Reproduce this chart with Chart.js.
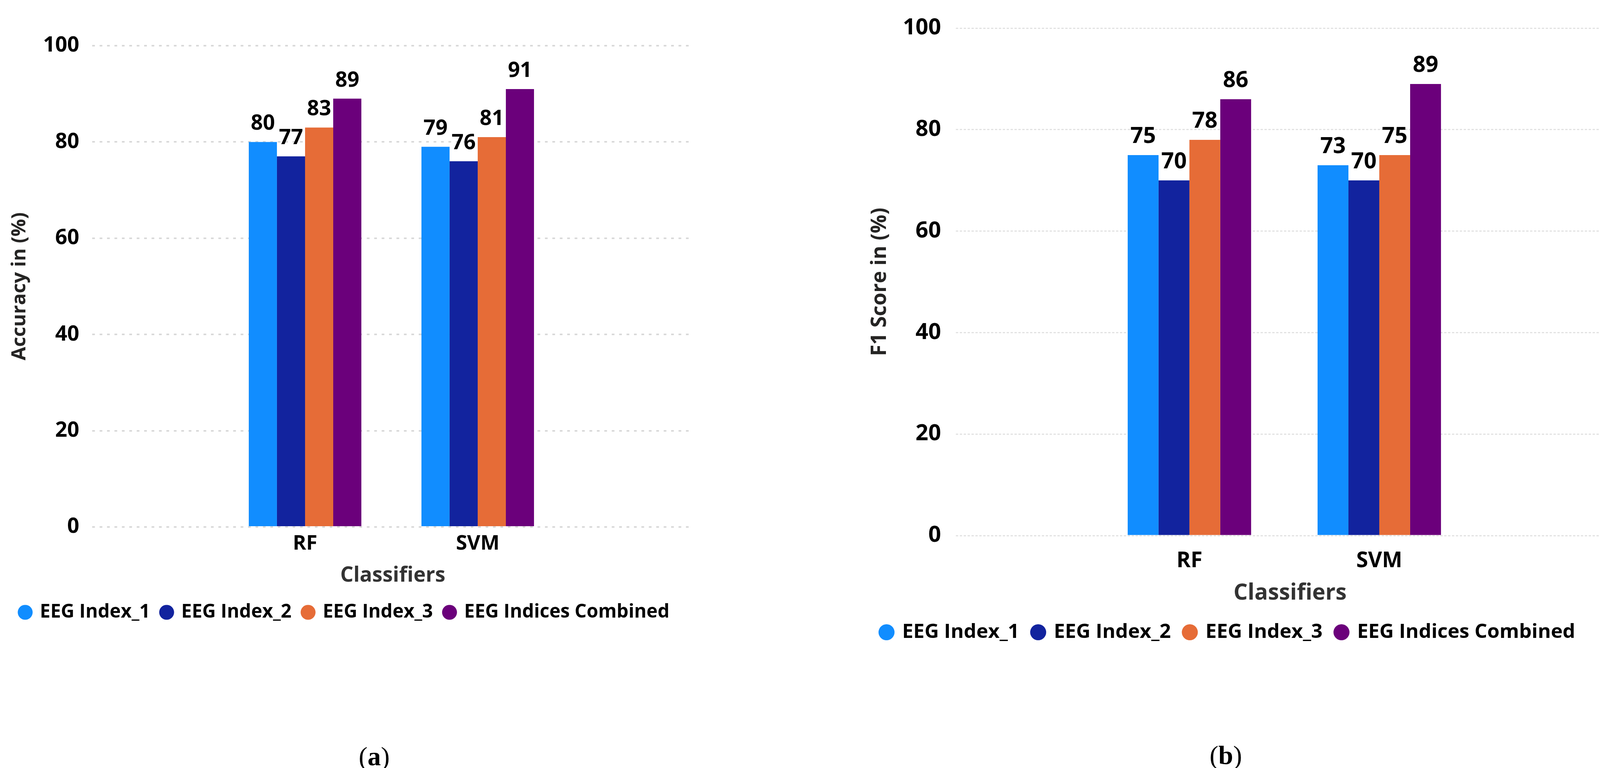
<!DOCTYPE html>
<html>
<head>
<meta charset="utf-8">
<script src="https://cdn.jsdelivr.net/npm/chart.js@4.4.1/dist/chart.umd.min.js"></script>
<style>
  html, body { margin: 0; padding: 0; background: #fff; }
  body { width: 4191px; height: 1966px; position: relative; overflow: hidden; }
  canvas { position: absolute; top: 0; }
  #chartA { left: 0; }
  #chartB { left: 2200px; }
  .caption { position: absolute; font-family: 'Liberation Serif', 'Times New Roman', serif; font-size: 68px; line-height: 1; color: #000; transform: translate(-50%, -50%); }
  .caption b { font-weight: bold; }
</style>
</head>
<body>
<canvas id="chartA" width="1800" height="1700"></canvas>
<canvas id="chartB" width="1991" height="1760"></canvas>
<div class="caption" style="left:958px; top:1936px;">(<b>a</b>)</div>
<div class="caption" style="left:3138px; top:1933px;">(<b>b</b>)</div>
<script>
// data
const classifiers = ['RF', 'SVM'];
const seriesNames = ['EEG Index_1', 'EEG Index_2', 'EEG Index_3', 'EEG Indices Combined'];
const seriesColors = ['#118DFF', '#12239E', '#E66C37', '#6B007B'];

const accIndex1 = [80, 79];
const accIndex2 = [77, 76];
const accIndex3 = [83, 81];
const accCombined = [89, 91];

const f1Index1 = [75, 73];
const f1Index2 = [70, 70];
const f1Index3 = [78, 75];
const f1Combined = [86, 89];

const yTicks = [0, 20, 40, 60, 80, 100];

Chart.defaults.font.family = "'Open Sans', 'Noto Sans', sans-serif";
Chart.defaults.font.weight = 'bold';
Chart.defaults.color = '#000';

// value labels on top of each bar
const barLabels = {
    id: 'barLabels',
    afterDatasetsDraw(chart, args, opts) {
        const ctx = chart.ctx;
        ctx.save();
        ctx.font = `bold ${opts.size}px 'Open Sans', 'Noto Sans', sans-serif`;
        ctx.fillStyle = '#000';
        ctx.textAlign = 'center';
        ctx.textBaseline = 'alphabetic';
        chart.data.datasets.forEach((ds, i) => {
            chart.getDatasetMeta(i).data.forEach((bar, j) => {
                ctx.fillText(Math.round(ds.data[j].y), bar.x, bar.y - opts.gap);
            });
        });
        ctx.restore();
    }
};

function makeChart(id, series, yTitle, s) {
    const datasets = series.map((vals, i) => ({
        label: seriesNames[i],
        data: vals.map((v, j) => ({ x: j, y: v })),
        backgroundColor: seriesColors[i],
        borderWidth: 0,
        categoryPercentage: s.catPct,
        barPercentage: 1.0
    }));

    return new Chart(document.getElementById(id), {
        type: 'bar',
        data: { datasets },
        plugins: [barLabels],
        options: {
            responsive: false,
            animation: false,
            devicePixelRatio: 1,
            layout: { padding: s.pad },
            scales: {
                x: {
                    type: 'linear',
                    min: s.xMin,
                    max: s.xMax,
                    offset: false,
                    grid: { display: false, offset: false },
                    border: { display: false },
                    afterBuildTicks: axis => { axis.ticks = classifiers.map((c, i) => ({ value: i })); },
                    afterFit: axis => { axis.height = s.xHeight; },
                    ticks: {
                        callback: v => classifiers[v],
                        font: { size: s.catSize, weight: 'bold' },
                        color: '#000',
                        padding: s.catPad,
                        maxRotation: 0
                    },
                    title: {
                        display: true,
                        text: 'Classifiers',
                        color: '#333',
                        font: { size: s.xTitleSize, weight: 'bold' },
                        padding: { top: 0, bottom: s.xTitlePad }
                    }
                },
                y: {
                    min: 0,
                    max: 100,
                    afterBuildTicks: axis => { axis.ticks = yTicks.map(v => ({ value: v })); },
                    afterFit: axis => { axis.width = s.yWidth; },
                    grid: {
                        color: s.gridColor,
                        lineWidth: s.gridWidth,
                        drawTicks: false,
                        tickLength: 0
                    },
                    border: { display: false, dash: s.gridDash },
                    ticks: {
                        font: { size: s.tickSize, weight: 'bold' },
                        color: '#000',
                        padding: s.tickPad
                    },
                    title: {
                        display: true,
                        text: yTitle,
                        color: '#252423',
                        font: { size: s.yTitleSize, weight: 'bold' },
                        padding: { top: s.yTitlePad, bottom: 0 }
                    }
                }
            },
            plugins: {
                tooltip: { enabled: false },
                barLabels: { size: s.labelSize, gap: 31 },
                legend: {
                    position: 'bottom',
                    align: 'start',
                    labels: {
                        usePointStyle: true,
                        pointStyle: 'circle',
                        boxWidth: s.box,
                        boxHeight: s.box,
                        padding: s.legendPad,
                        color: '#000',
                        font: { size: s.legendSize, weight: 'bold' }
                    }
                }
            }
        }
    });
}

makeChart('chartA', [accIndex1, accIndex2, accIndex3, accCombined], 'Accuracy in (%)', {
    pad: { left: 22, right: 25, top: 117, bottom: 98.5 },
    xMin: -1.233, xMax: 2.249, catPct: 0.652,
    xHeight: 165.5, yWidth: 214,
    catSize: 52, catPad: 4, xTitleSize: 53, xTitlePad: 9,
    tickSize: 54, tickPad: 33, yTitleSize: 50, yTitlePad: -1,
    labelSize: 54, legendSize: 48, legendPad: 29, box: 27,
    gridColor: '#d9d9d9', gridWidth: 4, gridDash: [7, 12]
});

makeChart('chartB', [f1Index1, f1Index2, f1Index3, f1Combined], 'F1 Score in (%)', {
    pad: { left: 21, right: 33, top: 67, bottom: 106 },
    xMin: -1.230, xMax: 2.290, catPct: 0.65,
    xHeight: 188, yWidth: 226,
    catSize: 55, catPad: 24, xTitleSize: 57, xTitlePad: 5.8,
    tickSize: 57, tickPad: 38, yTitleSize: 53, yTitlePad: 0,
    labelSize: 57, legendSize: 51, legendPad: 34, box: 29,
    gridColor: '#e2e2e2', gridWidth: 3, gridDash: [6, 4]
});
</script>
</body>
</html>
